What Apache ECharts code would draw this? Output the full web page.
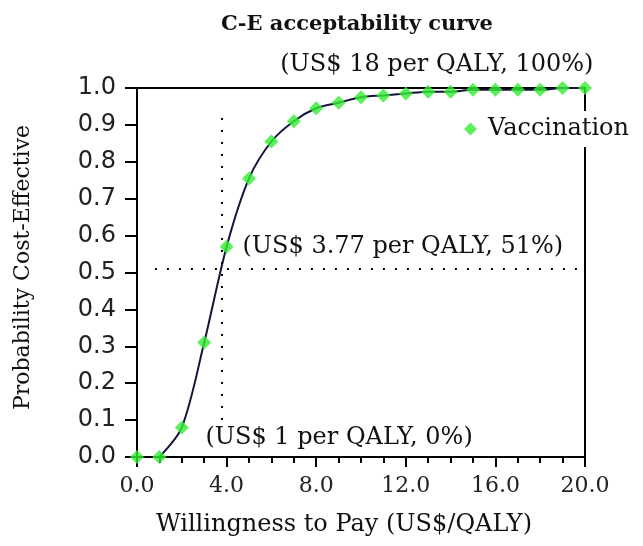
<!DOCTYPE html>
<html>
<head>
<meta charset="utf-8">
<script src="https://cdn.jsdelivr.net/npm/echarts@6/dist/echarts.min.js"></script>
<style>html,body{margin:0;padding:0;background:#fff;}#c{width:643px;height:546px;}</style>
</head>
<body>
<div id="c"></div>
<script>
// ---- data ----
const wtp = [0,1,2,3,4,5,6,7,8,9,10,11,12,13,14,15,16,17,18,19,20];
const probCE = [0.0,0.0,0.08,0.31,0.57,0.755,0.855,0.91,0.945,0.96,0.975,0.98,0.985,0.99,0.99,0.995,0.995,0.995,0.995,1.0,1.0];
const curveStart = 1;           // fitted curve begins at WTP = 1
const seriesName = 'Vaccination';
const refX = 3.77;              // threshold WTP
const refY = 0.51;              // probability at threshold
const vLineRange = [0.1, 0.94];
const hLineRange = [0.8, 19.8];
const annotations = [
  {text: '(US$ 18 per QALY, 100%)', x: 18, y: 1.0},
  {text: '(US$ 3.77 per QALY, 51%)', x: 3.77, y: 0.51},
  {text: '(US$ 1 per QALY, 0%)', x: 1, y: 0.0}
];
const annOffsets = [[-260, -23], [21, -22], [46, -19]];

const points = wtp.map((x, i) => [x, probCE[i]]);
const curve = points.filter(p => p[0] >= curveStart);

const chart = echarts.init(document.getElementById('c'));
const serif = 'DejaVu Serif';
chart.setOption({
  animation: false,
  backgroundColor: '#fff',
  title: {
    text: 'C-E acceptability curve',
    left: 352, top: 9, textAlign: 'center',
    textStyle: {fontFamily: serif, fontWeight: 'bold', fontSize: 21, color: '#111'}
  },
  grid: {left: 137, right: 58, top: 88, bottom: 89, show: true, borderColor: '#000', borderWidth: 2, backgroundColor: 'transparent'},
  legend: {
    data: [seriesName],
    left: 458, top: 111,
    orient: 'vertical',
    backgroundColor: '#fff',
    padding: [6, 4, 6, 6],
    itemWidth: 13, itemHeight: 13,
    textStyle: {fontFamily: serif, fontSize: 24, color: '#111', padding: [0, 0, 0, 6]}
  },
  xAxis: {
    type: 'value', min: 0, max: 20, interval: 4,
    name: 'Willingness to Pay (US$/QALY)', nameLocation: 'middle', nameGap: 56,
    nameTextStyle: {fontFamily: serif, fontSize: 24, color: '#111', padding: [0, 34, 0, 0]},
    axisLine: {show: true, lineStyle: {color: '#000', width: 2}},
    axisTick: {show: true, length: 10, lineStyle: {color: '#000', width: 2}},
    minorTick: {show: true, splitNumber: 4, length: 6, lineStyle: {color: '#000', width: 2}},
    splitLine: {show: false},
    axisLabel: {margin: 18, fontFamily: serif, fontSize: 22, color: '#222', formatter: v => v.toFixed(1)}
  },
  yAxis: {
    type: 'value', min: 0, max: 1, interval: 0.1,
    name: 'Probability Cost-Effective', nameLocation: 'middle', nameGap: 103,
    nameTextStyle: {fontFamily: serif, fontSize: 22, color: '#111', padding: [0, 0, 0, 10]},
    axisLine: {show: true, lineStyle: {color: '#000', width: 2}},
    axisTick: {show: true, length: 12, lineStyle: {color: '#000', width: 2}},
    splitLine: {show: false},
    axisLabel: {margin: 21, fontFamily: 'DejaVu Sans', fontSize: 24, color: '#222', formatter: v => v.toFixed(1)}
  },
  series: [
    {
      type: 'line', name: 'curve', data: curve, smooth: 0.3,
      symbol: 'none', z: 2,
      lineStyle: {color: '#14143c', width: 2},
      markLine: {
        silent: true, symbol: 'none', animation: false,
        lineStyle: {color: '#000', width: 2, type: [2, 10]},
        label: {show: false},
        data: [
          [{coord: [refX, vLineRange[0]]}, {coord: [refX, vLineRange[1]]}],
          [{coord: [hLineRange[0], refY]}, {coord: [hLineRange[1], refY]}]
        ]
      },
      markPoint: {
        silent: true, animation: false,
        symbol: 'circle', symbolSize: 1,
        itemStyle: {color: 'rgba(0,0,0,0)'},
        data: annotations.map((a, i) => ({
          coord: [a.x, a.y],
          label: {
            show: true, formatter: a.text, position: 'inside',
            offset: annOffsets[i], align: 'left', verticalAlign: 'middle',
            fontFamily: serif, fontSize: 24, color: '#111'
          }
        }))
      }
    },
    {
      type: 'scatter', name: seriesName, data: points,
      symbol: 'diamond', symbolSize: 14, z: 3,
      itemStyle: {color: '#33ee33'}
    }
  ]
});
</script>
</body>
</html>
